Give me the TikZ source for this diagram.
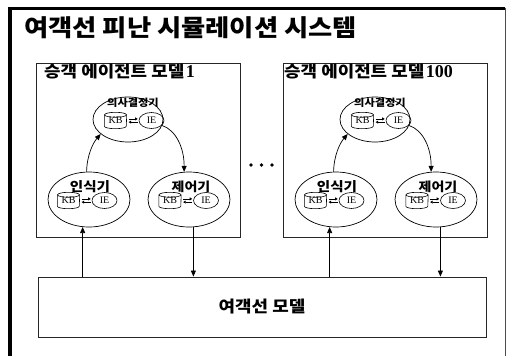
\documentclass[tikz,border=0pt]{standalone}
\usepackage{fontspec}
\setmainfont{Liberation Serif}
\newfontfamily\kr[FakeStretch=1.12]{Noto Sans CJK KR}
\usetikzlibrary{arrows.meta,shapes.geometric}

\newcommand\kbie[3]{%
  \node[kbnode] (#1kb) at (#2,#3) {KB};
  \draw[kbline] (#1kb.north west) -- (#1kb.south west) arc[start angle=180,end angle=360,x radius=11,y radius=2.5] -- (#1kb.north east);
  \draw[kbline] (#1kb.north) ellipse[x radius=11,y radius=2.5];
  \node[ienode] (#1ie) at ({#2+36},#3) {IE};
  \draw[sarr] ([xshift=2pt,yshift=1.6pt]#1kb.east) -- ([xshift=-1pt,yshift=1.6pt]#1ie.west);
  \draw[sarr] ([xshift=-1pt,yshift=-1.6pt]#1ie.west) -- ([xshift=2pt,yshift=-1.6pt]#1kb.east);
}

\begin{document}
\begin{tikzpicture}[x=1pt,y=1pt,
  agentbox/.style={draw=black!85, line width=0.9pt, inner sep=0pt},
  comp/.style={draw, ellipse, line width=0.7pt, inner sep=0pt},
  lab/.style={inner sep=0pt},
  kbnode/.style={minimum width=22pt, minimum height=11pt, inner sep=0pt, font=\fontsize{10}{10}\selectfont},
  kbline/.style={line width=0.6pt},
  ienode/.style={draw, ellipse, line width=0.6pt, minimum width=25pt, minimum height=16pt, inner sep=0pt, font=\fontsize{10}{10}\selectfont},
  arr/.style={-{Triangle[length=6pt,width=5pt]}, line width=0.7pt},
  sarr/.style={-{Triangle[length=2.5pt,width=3pt]}, line width=0.6pt}
]
\useasboundingbox (0,0) rectangle (508,-356);
\fill[white] (0,0) rectangle (508,-356);

% outer frame
\draw[line width=3.6pt, line join=miter] (10,-356) -- (10,-8.3) -- (505,-8.3);
\draw[black!70, line width=1pt] (505,-8.3) -- (505,-356);

\node[anchor=west, inner sep=0pt, font=\kr\bfseries\fontsize{23.5}{26}\selectfont] (title) at (24,-27.5) {여객선 피난 시뮬레이션 시스템};

% ship model
\node[agentbox, minimum width=448pt, minimum height=60pt, font=\kr\bfseries\fontsize{16}{18}\selectfont] (model) at (262,-307) {여객선 모델};

\foreach \o/\n/\lx/\num in {0/a/44/1, 247/b/284/100} {
  \node[agentbox, minimum width=204pt, minimum height=174pt] (box\n) at ({138+\o},-150) {};
  \node[lab, anchor=west] (lab\n) at (\lx,-72) {{\kr\bfseries\fontsize{16}{18}\selectfont 승객 에이전트 모델}\,{\bfseries\fontsize{18}{18}\selectfont\num}};

  \node[comp, minimum width=70pt, minimum height=45pt] (dec\n) at ({128+\o},-119.5) {};
  \node[comp, minimum width=82pt, minimum height=55pt] (rec\n) at ({89+\o},-199.5) {};
  \node[comp, minimum width=82pt, minimum height=55pt] (ctl\n) at ({189+\o},-199.5) {};

  \node[lab, font=\kr\bfseries\fontsize{10}{12}\selectfont] (decl\n) at ({133+\o},-103) {의사결정기};
  \node[lab, font=\kr\bfseries\fontsize{13}{14}\selectfont] (recl\n) at ({90+\o},-187) {인식기};
  \node[lab, font=\kr\bfseries\fontsize{12.5}{14}\selectfont] (ctll\n) at ({191+\o},-187) {제어기};

  \kbie{dec\n}{115.5+\o}{-120.5}
  \kbie{rec\n}{68.5+\o}{-200.5}
  \kbie{ctl\n}{170+\o}{-200.5}

  \draw[arr] (rec\n.95) .. controls ({87+\o},-155) and ({93+\o},-143) .. (dec\n.208);
  \draw[arr] (dec\n.350) .. controls ({176+\o},-130) and ({184.2+\o},-148) .. (ctl\n.100);

  \draw[arr] (model.north -| rec\n.257) -- (rec\n.257);
  \draw[arr] (ctl\n.279) -- (model.north -| ctl\n.279);
}

% dots
\fill (251,-165) circle (1.8);
\fill (261.5,-165) circle (1.8);
\fill (272,-165) circle (1.8);
\end{tikzpicture}
\end{document}
